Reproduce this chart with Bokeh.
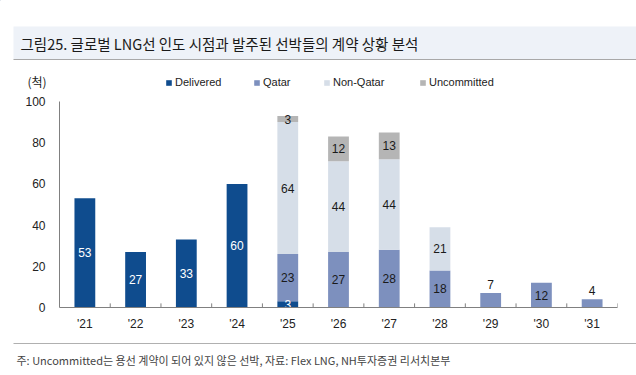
from bokeh.plotting import figure
from bokeh.layouts import column
from bokeh.models import (ColumnDataSource, Label, BoxAnnotation, Legend, LegendItem,
                          FixedTicker, Range1d)
from bokeh.transform import dodge
from bokeh.core.properties import value
from bokeh.embed import file_html
from bokeh.resources import INLINE

# ---------------- data ----------------
years = ["'21", "'22", "'23", "'24", "'25", "'26", "'27", "'28", "'29", "'30", "'31"]
delivered = [53, 27, 33, 60, 3, 0, 0, 0, 0, 0, 0]
qatar = [0, 0, 0, 0, 23, 27, 28, 18, 7, 12, 4]
non_qatar = [0, 0, 0, 0, 64, 44, 44, 21, 0, 0, 0]
uncommitted = [0, 0, 0, 0, 3, 12, 13, 0, 0, 0, 0]
series_names = ["Delivered", "Qatar", "Non-Qatar", "Uncommitted"]
y_ticks = [0, 20, 40, 60, 80, 100]
labels_above = ["'29", "'31"]

title_text = "그림25. 글로벌 LNG선 인도 시점과 발주된 선박들의 계약 상황 분석"
unit_text = "(척)"
note_text = "주: Uncommitted는 용선 계약이 되어 있지 않은 선박,  자료: Flex LNG, NH투자증권 리서치본부"

colors = ["#0f4c8e", "#7d90be", "#d6dee8", "#b5b5b5"]
label_colors = ["#ffffff", "#1a1a1a", "#1a1a1a", "#1a1a1a"]
LAT = "Liberation Sans"
KR = "Noto Sans CJK KR"
W = 636
TOP_H, CHART_H, FOOT_H = 93, 244, 38


def blank(h):
    f = figure(width=W, height=h, x_range=Range1d(0, W), y_range=Range1d(h, 0),
               output_backend="svg", toolbar_location=None,
               x_axis_location=None, y_axis_location=None, frame_align=False,
               min_border_left=0, min_border_right=0, min_border_top=0, min_border_bottom=0)
    f.outline_line_color = None
    f.grid.grid_line_color = None
    return f


# ---------------- header ----------------
top = blank(TOP_H)
top.add_layout(BoxAnnotation(left=13, right=W, top=26, bottom=59,
                             fill_color="#eef2f8", fill_alpha=1, line_color=None))
top.add_layout(BoxAnnotation(left=13, right=W, top=58.5, bottom=59.5,
                             fill_color="#a8a8a8", fill_alpha=1, line_color=None))
top.add_layout(Label(x=20, y=43, text=title_text, text_font=KR, text_font_size="14.5px",
                     text_color="#1a1a1a", text_baseline="middle"))
top.add_layout(Label(x=27, y=81, text=unit_text, text_font=KR, text_font_size="12px",
                     text_color="#222222", text_baseline="middle"))
leg_x = [165, 253, 323, 419]
for name, c, lxp in zip(series_names, colors, leg_x):
    dummy = top.vbar(x=[-1000], top=[-1000], bottom=[-1001], width=1, color=c, line_color=None)
    lg = Legend(items=[LegendItem(label=name, renderers=[dummy])],
                location=(lxp, TOP_H - 82 - 6), orientation="horizontal",
                padding=0, margin=0, spacing=0, border_line_color=None,
                background_fill_alpha=0, glyph_width=7, glyph_height=7,
                label_standoff=3, label_height=12,
                label_text_font=LAT, label_text_font_size="11px",
                label_text_color="#222222")
    top.add_layout(lg)

# ---------------- chart ----------------
p = figure(x_range=years, y_range=Range1d(0, 100), width=W, height=CHART_H,
           output_backend="svg", toolbar_location=None, frame_align=False,
           min_border_left=59, min_border_right=19, min_border_top=8, min_border_bottom=30)
p.outline_line_color = None
p.grid.grid_line_color = None

data = dict(x=years, Delivered=delivered, Qatar=qatar)
data["Non-Qatar"] = non_qatar
data["Uncommitted"] = uncommitted
src = ColumnDataSource(data)
p.vbar_stack(series_names, x="x", width=0.41, source=src, color=colors, line_color=None)

lx, ly, lt, lc, lb = [], [], [], [], []
for i, yr in enumerate(years):
    base = 0
    for s, vals in enumerate([delivered, qatar, non_qatar, uncommitted]):
        v = vals[i]
        if v > 0:
            if yr in labels_above:
                ly.append(base + v + 2.2); lb.append("bottom")
            else:
                ly.append(base + v / 2); lb.append("middle")
            lx.append(yr); lt.append(str(v)); lc.append(label_colors[s])
        base += v
lsrc = ColumnDataSource(dict(x=lx, y=ly, t=lt, c=lc, b=lb))
p.text(x="x", y="y", text="t", source=lsrc, text_color="c", text_align="center",
       text_baseline="b", text_font=value(LAT), text_font_size="12px")

tsrc = ColumnDataSource(dict(x=years))
p.segment(x0=dodge("x", 0.5, range=p.x_range), x1=dodge("x", 0.5, range=p.x_range),
          y0=0, y1=2, source=tsrc, line_color="#808080", line_width=1)

p.yaxis.ticker = FixedTicker(ticks=y_ticks)
for ax in (p.xaxis[0], p.yaxis[0]):
    ax.axis_line_color = "#808080"
    ax.major_tick_line_color = None
    ax.minor_tick_line_color = None
    ax.major_tick_out = 0
    ax.major_tick_in = 0
    ax.major_label_text_font = LAT
    ax.major_label_text_font_size = "12px"
    ax.major_label_text_color = "#222222"
p.yaxis.major_label_standoff = 14
p.xaxis.major_label_standoff = 9

# ---------------- footer ----------------
foot = blank(FOOT_H)
foot.add_layout(BoxAnnotation(left=13, right=W, top=5.5, bottom=6.5,
                              fill_color="#b0b0b0", fill_alpha=1, line_color=None))
foot.add_layout(Label(x=16, y=22, text=note_text, text_font=KR, text_font_size="11px",
                      text_color="#444444", text_baseline="middle"))

layout = column(top, p, foot, spacing=0)
open("out.html", "w").write(file_html(layout, INLINE))
